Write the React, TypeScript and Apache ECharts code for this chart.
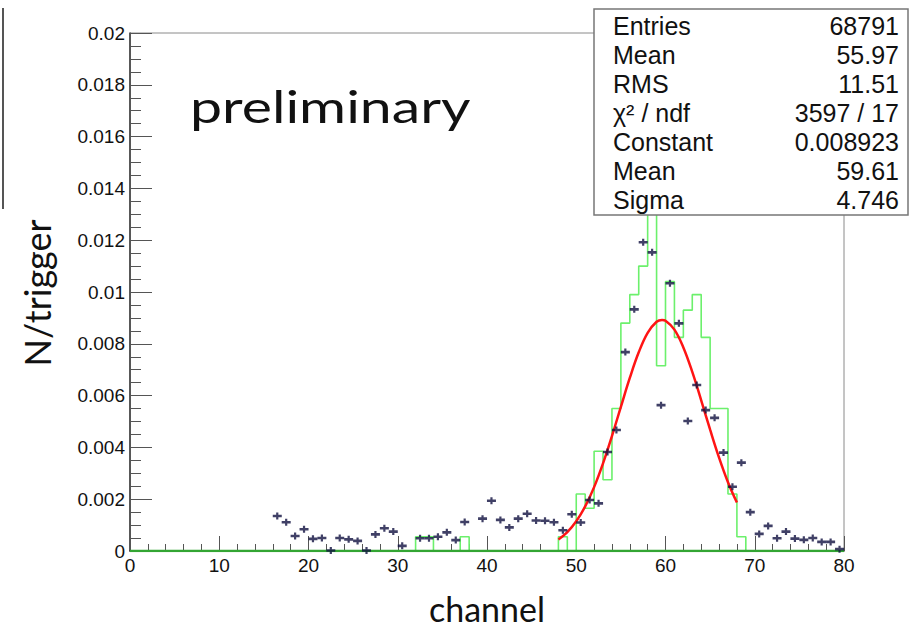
import React, { useEffect, useRef } from "react";
import * as echarts from "echarts";

// Data points (per bin, bins 0..79 of width 1, drawn at bin centres); null = not drawn
const pointValues: (number | null)[] = [
  null, null, null, null, null, null, null, null, null, null, // 0-9
  null, null, null, null, null, null, // 10-15
  0.00135, 0.00111, 0.00058, 0.00084, // 16-19
  0.00047, 0.0005, 0.00002, 0.0005, 0.00045, 0.00039, 0.00002, 0.00064, 0.00088, 0.00075, // 20-29
  0.0002, null, 0.00049, 0.00049, 0.00055, 0.00072, 0.00042, 0.00112, null, 0.00125, // 30-39
  0.00194, 0.0012, 0.00091, 0.00125, 0.00144, 0.00118, 0.00117, 0.00111, 0.0008, 0.00142, // 40-49
  0.0011, 0.00197, 0.00184, 0.00382, 0.00467, 0.00768, 0.00933, 0.01192, 0.01153, 0.00563, // 50-59
  0.01034, 0.00879, 0.00502, 0.00641, 0.00544, 0.00514, 0.0038, 0.00248, 0.00341, 0.0015, // 60-69
  0.00066, 0.00097, 0.00049, 0.00075, 0.00048, 0.00043, 0.0005, 0.00035, 0.00035, 0.00007, // 70-79
];

// Green histogram, bin contents for bins 0..79
const histValues: number[] = [
  0, 0, 0, 0, 0, 0, 0, 0, 0, 0, // 0-9
  0, 0, 0, 0, 0, 0, 0, 0, 0, 0, // 10-19
  0, 0, 0, 0, 0, 0, 0, 0, 0, 0, // 20-29
  0, 0, 0.00055, 0.00055, 0, 0, 0, 0.00055, 0, 0, // 30-39
  0, 0, 0, 0, 0, 0, 0, 0, 0.00055, 0, // 40-49
  0.0022, 0.00165, 0.00385, 0.00275, 0.0055, 0.0088, 0.0099, 0.011, 0.0132, 0.00715, // 50-59
  0.0104, 0.00825, 0.0093, 0.0099, 0.00825, 0.0055, 0.0055, 0.0022, 0.00055, 0, // 60-69
  0, 0, 0, 0, 0, 0, 0, 0, 0, 0, // 70-79
];

// Red Gaussian fit curve, sampled along its drawn range
const fitX: number[] = [48, 49, 50, 51, 52, 53, 54, 55, 56, 57, 58, 59, 59.61, 60, 61, 62, 63, 64, 65, 66, 67, 68];
const fitY: number[] = [
  0.000448, 0.000733, 0.001149, 0.001721, 0.002467, 0.003383, 0.004438, 0.005567, 0.006682, 0.007671,
  0.008424, 0.00885, 0.008923, 0.008893, 0.008548, 0.00786, 0.006914, 0.005817, 0.004682, 0.003605,
  0.002655, 0.00187,
];

const statLabels: string[] = ["Entries", "Mean", "RMS", "χ² / ndf", "Constant", "Mean", "Sigma"];
const statValues: string[] = ["68791", "55.97", "11.51", "3597 / 17", "0.008923", "59.61", "4.746"];

const xMin = 0;
const xMax = 80;
const yMin = 0;
const yMax = 0.02;

export default function App() {
  const ref = useRef<HTMLDivElement>(null);

  useEffect(() => {
    if (!ref.current) return;
    const chart = echarts.init(ref.current, undefined, { renderer: "svg" });

    const pointData: number[][] = [];
    pointValues.forEach((v, i) => {
      if (v !== null) pointData.push([i + 0.5, v]);
    });
    const histData: number[][] = histValues.map((v, i) => [i, v]);
    histData.push([histValues.length, histValues[histValues.length - 1]]);
    const fitData = fitX.map((x, i) => [x, fitY[i]]);

    const labelFont = "'Liberation Sans', Arial, Helvetica, sans-serif";
    const titleFont = "Lato, 'Open Sans', sans-serif";

    const rowY = [26, 55, 84, 113, 142, 171, 200];
    const statTexts: any[] = [];
    statLabels.forEach((t, i) => {
      statTexts.push({
        type: "text",
        x: 613,
        y: rowY[i],
        z: 102,
        style: {
          text: t,
          fontSize: 25,
          fontFamily: labelFont,
          fill: "#111",
          align: "left",
          verticalAlign: "middle",
        },
      });
      statTexts.push({
        type: "text",
        x: 899,
        y: rowY[i],
        z: 102,
        style: {
          text: statValues[i],
          fontSize: 25,
          fontFamily: labelFont,
          fill: "#111",
          align: "right",
          verticalAlign: "middle",
        },
      });
    });

    chart.setOption({
      animation: false,
      backgroundColor: "#ffffff",
      grid: {
        left: 130,
        top: 33,
        width: 714,
        height: 518,
        show: true,
        borderColor: "#8a8a8a",
        borderWidth: 1,
        backgroundColor: "transparent",
      },
      xAxis: {
        type: "value",
        min: xMin,
        max: xMax,
        interval: 10,
        name: "channel",
        nameLocation: "middle",
        nameGap: 40,
        nameTextStyle: { fontFamily: titleFont, fontSize: 34, color: "#111" },
        axisLine: { show: true, onZero: false, lineStyle: { color: "#333", width: 1.5 } },
        axisTick: { show: true, inside: true, length: 15, lineStyle: { color: "#555", width: 1 } },
        minorTick: { show: true, splitNumber: 5, length: 7, lineStyle: { color: "#555", width: 1 } },
        splitLine: { show: false },
        minorSplitLine: { show: false },
        axisLabel: { color: "#111", fontSize: 19, fontFamily: labelFont, margin: 5 },
      },
      yAxis: {
        type: "value",
        min: yMin,
        max: yMax,
        interval: 0.002,
        axisLine: { show: true, onZero: false, lineStyle: { color: "#333", width: 1.5 } },
        axisTick: { show: true, inside: true, length: 22, lineStyle: { color: "#555", width: 1 } },
        minorTick: { show: true, splitNumber: 4, length: 11, lineStyle: { color: "#555", width: 1 } },
        splitLine: { show: false },
        minorSplitLine: { show: false },
        axisLabel: {
          color: "#111",
          fontSize: 19,
          fontFamily: labelFont,
          margin: 5,
          formatter: (v: number) => String(parseFloat(v.toFixed(4))),
        },
      },
      series: [
        {
          type: "line",
          step: "end",
          data: histData,
          symbol: "none",
          lineStyle: { color: "#6cf06c", width: 1.6 },
          z: 2,
        },
        {
          type: "line",
          data: [[xMin, 0], [xMax, 0]],
          symbol: "none",
          lineStyle: { color: "#33a533", width: 2.5 },
          z: 3,
        },
        {
          type: "line",
          data: fitData,
          smooth: 0.4,
          symbol: "none",
          lineStyle: { color: "#ff1414", width: 2.5 },
          z: 4,
        },
        {
          type: "scatter",
          data: pointData,
          symbol: "path://M0,2.5H9V5.5H0Z M3.4,0H5.6V8H3.4Z",
          symbolSize: [9, 7],
          itemStyle: { color: "#101040" },
          z: 5,
        },
      ],
      graphic: [
        {
          type: "line",
          z: 100,
          shape: { x1: 3, y1: 8, x2: 3, y2: 209 },
          style: { stroke: "#555", lineWidth: 2 },
        },
        {
          type: "rect",
          z: 100,
          shape: { x: 594, y: 9, width: 314, height: 206 },
          style: { fill: "#ffffff", stroke: "#777", lineWidth: 1.5 },
        },
        ...statTexts,
        {
          type: "text",
          x: 190,
          y: 106,
          scaleX: 1.3,
          z: 100,
          style: {
            text: "preliminary",
            fontSize: 44,
            fontFamily: titleFont,
            fill: "#111",
            align: "left",
            verticalAlign: "middle",
          },
        },
        {
          type: "text",
          x: 37,
          y: 293,
          rotation: Math.PI / 2,
          z: 100,
          style: {
            text: "N/trigger",
            fontSize: 36,
            fontFamily: titleFont,
            fill: "#111",
            align: "center",
            verticalAlign: "middle",
          },
        },
      ],
    });

    return () => chart.dispose();
  }, []);

  return (
    <div
      ref={ref}
      style={{ position: "fixed", left: 0, top: 0, width: 911, height: 630, background: "#fff" }}
    />
  );
}
